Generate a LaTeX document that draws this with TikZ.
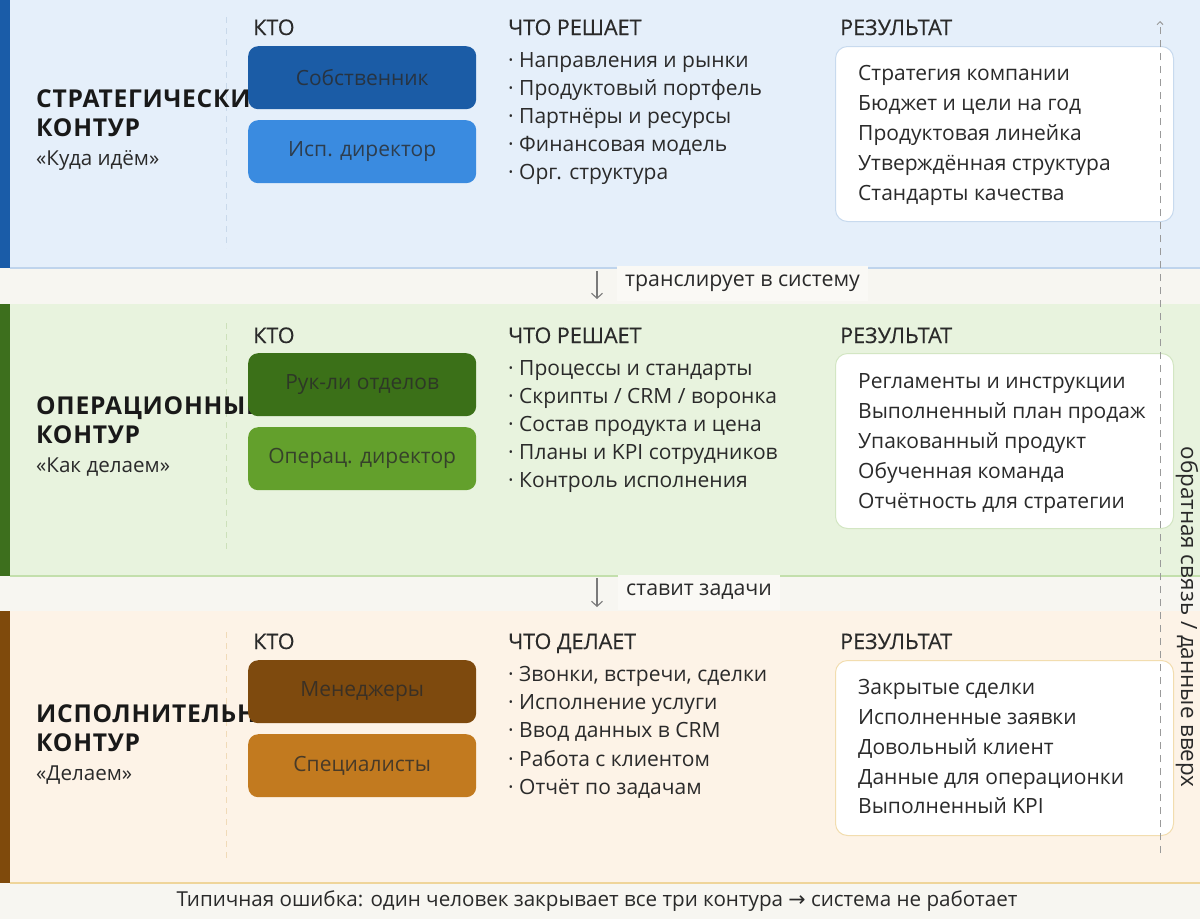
\documentclass[tikz,border=0pt]{standalone}
\usepackage{fontspec}
\setmainfont{Open Sans}
\newfontfamily\medf{Open Sans}[FakeBold=0.4]
\newfontfamily\ttlf{Open Sans}[LetterSpace=3]
\newfontfamily\dejavu{DejaVu Sans}
\usetikzlibrary{arrows.meta}
\definecolor{ink}{HTML}{2A2A2A}
\definecolor{pagebg}{HTML}{F7F6F1}
\definecolor{gapl}{HTML}{FAF9F5}
\definecolor{bandA}{HTML}{E5EFFA}
\definecolor{accA}{HTML}{1A5CA8}
\definecolor{lineA}{HTML}{BFD4EC}
\definecolor{dashA}{HTML}{C9D9EA}
\definecolor{boxAa}{HTML}{1B5CA6}
\definecolor{boxAb}{HTML}{3A8BE0}
\definecolor{resA}{HTML}{C8DAEE}
\definecolor{bandB}{HTML}{E8F3DE}
\definecolor{accB}{HTML}{3D6F1D}
\definecolor{lineB}{HTML}{C3DFAC}
\definecolor{dashB}{HTML}{CCE0BA}
\definecolor{boxBa}{HTML}{3B7018}
\definecolor{boxBb}{HTML}{63A02C}
\definecolor{resB}{HTML}{D3E6C3}
\definecolor{bandC}{HTML}{FDF3E7}
\definecolor{accC}{HTML}{7F4A0C}
\definecolor{lineC}{HTML}{EFD59A}
\definecolor{dashC}{HTML}{F0DAB8}
\definecolor{boxCa}{HTML}{7E4A0E}
\definecolor{boxCb}{HTML}{C27A1F}
\definecolor{resC}{HTML}{F2DDAF}
\definecolor{arrowgray}{HTML}{7A7A7A}
\definecolor{fbgray}{HTML}{9A9A9A}
\tikzset{
  txt/.style={inner sep=0pt, anchor=base west, text=ink},
  hdr/.style={txt, font=\medf\fontsize{21.5}{26}\selectfont},
  itm/.style={txt, font=\fontsize{21}{26}\selectfont},
  ttl/.style={txt, font=\ttlf\bfseries\fontsize{24.6}{29}\selectfont, text=black!90},
  subt/.style={txt, font=\fontsize{20.6}{25}\selectfont},
  who/.style={rounded corners=10pt, minimum width=228pt, minimum height=63pt, inner sep=0pt,
    font=\fontsize{21}{26}\selectfont, text=ink, text opacity=0.8, anchor=north west},
  resbox/.style={fill=white, rounded corners=12pt, line width=1pt,
    minimum width=338pt, minimum height=175pt, inner sep=0pt, anchor=north west},
  lbl/.style={anchor=west, fill=gapl, inner xsep=8pt, inner ysep=0pt, minimum height=35pt,
    font=\fontsize{21.3}{26}\selectfont, text=ink},
  darr/.style={draw=arrowgray, line width=1.1pt, -{Straight Barb[length=5pt,width=11pt]}},
  vdash/.style={line width=1pt, dash pattern=on 6pt off 5pt},
  fbarr/.style={draw=fbgray, line width=1pt, dash pattern=on 7pt off 6pt,
    -{Straight Barb[length=3pt,width=6pt]}},
}
\begin{document}
\begin{tikzpicture}[x=1pt, y=-1pt]
\useasboundingbox (0,0) rectangle (1200,919);
\fill[pagebg] (0,0) rectangle (1200,919);

% ---------- band 1 : strategic ----------
\fill[bandA] (0,0) rectangle (1200,268);
\draw[lineA, line width=2pt] (10,268) -- (1200,268);
\fill[accA] (0,0) rectangle (10,268);
\draw[dashA, vdash] (226,17) -- (226,248);
\node[ttl] (t1a) at (36,107) {СТРАТЕГИЧЕСКИЙ};
\node[ttl] (t1b) at (36,136) {КОНТУР};
\node[subt] (t1c) at (36,165) {«Куда идём»};
\node[hdr] (h1a) at (253,35) {КТО};
\node[hdr] (h1b) at (508,35) {ЧТО РЕШАЕТ};
\node[hdr] (h1c) at (840,35) {РЕЗУЛЬТАТ};
\node[who, fill=boxAa] (w1a) at (248,46) {Собственник};
\node[who, fill=boxAb] (w1b) at (248,120) {Исп. директор};
\node[itm] (m1a) at (508,67) {· Направления и рынки};
\node[itm] (m1b) at (508,95) {· Продуктовый портфель};
\node[itm] (m1c) at (508,123) {· Партнёры и ресурсы};
\node[itm] (m1d) at (508,151) {· Финансовая модель};
\node[itm] (m1e) at (508,179) {· Орг. структура};
\node[resbox, draw=resA] (r1) at (835,46) {};
\node[itm] (r1a) at (858,80) {Стратегия компании};
\node[itm] (r1b) at (858,110) {Бюджет и цели на год};
\node[itm] (r1c) at (858,140) {Продуктовая линейка};
\node[itm] (r1d) at (858,170) {Утверждённая структура};
\node[itm] (r1e) at (858,200) {Стандарты качества};

% ---------- band 2 : operational ----------
\fill[bandB] (0,304) rectangle (1200,576);
\draw[lineB, line width=2pt] (10,576) -- (1200,576);
\fill[accB] (0,304) rectangle (10,576);
\draw[dashB, vdash] (226,323) -- (226,553);
\node[ttl] (t2a) at (36,414) {ОПЕРАЦИОННЫЙ};
\node[ttl] (t2b) at (36,443) {КОНТУР};
\node[subt] (t2c) at (36,472) {«Как делаем»};
\node[hdr] (h2a) at (253,343) {КТО};
\node[hdr] (h2b) at (508,343) {ЧТО РЕШАЕТ};
\node[hdr] (h2c) at (840,343) {РЕЗУЛЬТАТ};
\node[who, fill=boxBa] (w2a) at (248,353) {Рук-ли отделов};
\node[who, fill=boxBb] (w2b) at (248,427) {Операц. директор};
\node[itm] (m2a) at (508,375) {· Процессы и стандарты};
\node[itm] (m2b) at (508,403) {· Скрипты / CRM / воронка};
\node[itm] (m2c) at (508,431) {· Состав продукта и цена};
\node[itm] (m2d) at (508,459) {· Планы и KPI сотрудников};
\node[itm] (m2e) at (508,487) {· Контроль исполнения};
\node[resbox, draw=resB] (r2) at (835,353) {};
\node[itm] (r2a) at (858,388) {Регламенты и инструкции};
\node[itm] (r2b) at (858,418) {Выполненный план продаж};
\node[itm] (r2c) at (858,448) {Упакованный продукт};
\node[itm] (r2d) at (858,478) {Обученная команда};
\node[itm] (r2e) at (858,508) {Отчётность для стратегии};

% ---------- band 3 : executive ----------
\fill[bandC] (0,611) rectangle (1200,883);
\draw[lineC, line width=2pt] (10,883) -- (1200,883);
\fill[accC] (0,611) rectangle (10,883);
\draw[dashC, vdash] (226,632) -- (226,862);
\node[ttl] (t3a) at (36,722) {ИСПОЛНИТЕЛЬНЫЙ};
\node[ttl] (t3b) at (36,751) {КОНТУР};
\node[subt] (t3c) at (36,780) {«Делаем»};
\node[hdr] (h3a) at (253,649) {КТО};
\node[hdr] (h3b) at (508,649) {ЧТО ДЕЛАЕТ};
\node[hdr] (h3c) at (840,649) {РЕЗУЛЬТАТ};
\node[who, fill=boxCa] (w3a) at (248,660) {Менеджеры};
\node[who, fill=boxCb] (w3b) at (248,734) {Специалисты};
\node[itm] (m3a) at (508,681) {· Звонки, встречи, сделки};
\node[itm] (m3b) at (508,709) {· Исполнение услуги};
\node[itm] (m3c) at (508,737) {· Ввод данных в CRM};
\node[itm] (m3d) at (508,766) {· Работа с клиентом};
\node[itm] (m3e) at (508,794) {· Отчёт по задачам};
\node[resbox, draw=resC] (r3) at (835,660) {};
\node[itm] (r3a) at (858,694) {Закрытые сделки};
\node[itm] (r3b) at (858,724) {Исполненные заявки};
\node[itm] (r3c) at (858,754) {Довольный клиент};
\node[itm] (r3d) at (858,784) {Данные для операционки};
\node[itm] (r3e) at (858,813) {Выполненный KPI};

% ---------- connectors between bands ----------
\node[lbl] (l1) at (617,283) {транслирует в систему};
\coordinate (d1s) at (597,271);
\coordinate (d1e) at (597,299);
\draw[darr] (d1s) -- (d1e);
\node[lbl] (l2) at (618,592) {ставит задачи};
\coordinate (d2s) at (597,578);
\coordinate (d2e) at (597,607);
\draw[darr] (d2s) -- (d2e);

% ---------- feedback ----------
\coordinate (fbs) at (1160,853);
\coordinate (fbe) at (1160,21);
\draw[fbarr] (fbs) -- (fbe);
\node[rotate=-90, inner sep=0pt, font=\fontsize{22.4}{26}\selectfont, text=ink] (fbl) at (1187,617) {обратная связь / данные вверх};

% ---------- bottom note ----------
\node[inner sep=0pt, font=\fontsize{20.6}{24}\selectfont, text=ink] (note) at (597,901)
  {Типичная ошибка: один человек закрывает все три контура {\dejavu →} система не работает};
\end{tikzpicture}
\end{document}
